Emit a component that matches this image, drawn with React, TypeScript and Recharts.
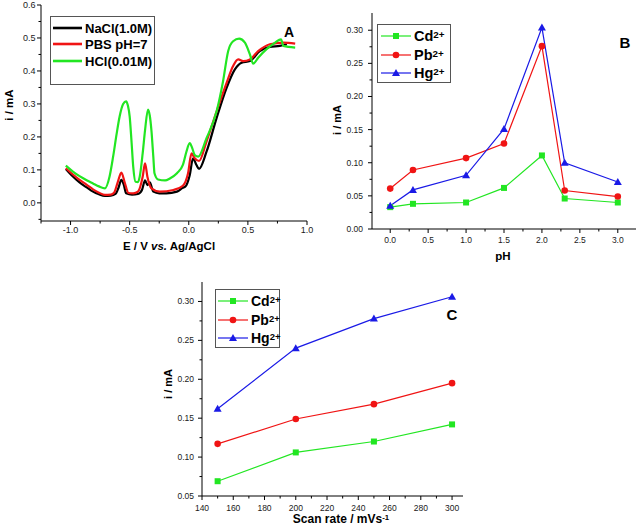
import React from 'react';
import { LineChart, Line, XAxis, YAxis } from 'recharts';

const FONT = '"Liberation Sans", Arial, Helvetica, sans-serif';
const GREEN = '#22e622';
const RED = '#f01414';
const BLUE = '#1a1ae6';
const BLACK = '#000000';

// Panel A: [E (V), i (mA)]
const naclCurve: [number, number][] = [
  [-1.04, 0.103], [-0.98, 0.08], [-0.924, 0.062], [-0.86, 0.046], [-0.81, 0.034], [-0.76, 0.026],
  [-0.71, 0.021], [-0.66, 0.022], [-0.62, 0.027], [-0.595, 0.045], [-0.57, 0.07], [-0.55, 0.055],
  [-0.53, 0.029], [-0.48, 0.025], [-0.43, 0.027], [-0.395, 0.04], [-0.37, 0.068], [-0.35, 0.054],
  [-0.33, 0.062], [-0.3, 0.034], [-0.25, 0.029], [-0.19, 0.029], [-0.1, 0.034], [-0.05, 0.046],
  [-0.03, 0.049], [0.008, 0.084], [0.036, 0.135], [0.065, 0.115], [0.087, 0.103], [0.15, 0.155],
  [0.235, 0.257], [0.32, 0.349], [0.39, 0.405], [0.447, 0.425], [0.517, 0.43], [0.6, 0.46],
  [0.686, 0.473], [0.77, 0.476], [0.83, 0.481],
];
const pbsCurve: [number, number][] = [
  [-1.04, 0.105], [-0.98, 0.086], [-0.924, 0.07], [-0.86, 0.054], [-0.81, 0.041], [-0.76, 0.031],
  [-0.71, 0.024], [-0.66, 0.025], [-0.63, 0.032], [-0.6, 0.064], [-0.57, 0.092], [-0.54, 0.059],
  [-0.51, 0.03], [-0.47, 0.029], [-0.43, 0.034], [-0.39, 0.079], [-0.37, 0.12], [-0.35, 0.079],
  [-0.316, 0.044], [-0.245, 0.034], [-0.13, 0.039], [-0.05, 0.052], [-0.006, 0.09], [0.023, 0.15],
  [0.05, 0.135], [0.087, 0.127], [0.15, 0.186], [0.235, 0.277], [0.32, 0.364], [0.375, 0.415],
  [0.418, 0.435], [0.46, 0.43], [0.517, 0.435], [0.587, 0.46], [0.686, 0.481], [0.8, 0.486],
  [0.9, 0.483],
];
const hclCurve: [number, number][] = [
  [-1.04, 0.113], [-0.98, 0.095], [-0.924, 0.081], [-0.86, 0.068], [-0.81, 0.059], [-0.76, 0.05],
  [-0.71, 0.044], [-0.67, 0.08], [-0.64, 0.14], [-0.61, 0.21], [-0.585, 0.262], [-0.555, 0.3],
  [-0.53, 0.308], [-0.515, 0.295], [-0.5, 0.262], [-0.485, 0.19], [-0.47, 0.11], [-0.45, 0.064],
  [-0.43, 0.063], [-0.415, 0.079], [-0.39, 0.15], [-0.37, 0.22], [-0.345, 0.283], [-0.33, 0.265],
  [-0.316, 0.22], [-0.3, 0.14], [-0.29, 0.09], [-0.26, 0.071], [-0.2, 0.068], [-0.16, 0.074],
  [-0.1, 0.09], [-0.05, 0.115], [-0.02, 0.155], [0.008, 0.181], [0.03, 0.165], [0.05, 0.145],
  [0.08, 0.14], [0.15, 0.196], [0.235, 0.277], [0.29, 0.369], [0.333, 0.46], [0.375, 0.49],
  [0.426, 0.498], [0.475, 0.486], [0.517, 0.45], [0.545, 0.422], [0.587, 0.44], [0.658, 0.466],
  [0.73, 0.486], [0.78, 0.496], [0.8, 0.476], [0.9, 0.471],
];

// Panel B: current vs pH
const phValues = [0, 0.3, 1.0, 1.5, 2.0, 2.3, 3.0];
const cdByPh = [0.033, 0.038, 0.04, 0.062, 0.111, 0.046, 0.04];
const pbByPh = [0.061, 0.089, 0.107, 0.129, 0.276, 0.058, 0.049];
const hgByPh = [0.035, 0.059, 0.081, 0.151, 0.304, 0.1, 0.071];

// Panel C: current vs scan rate
const scanRates = [150, 200, 250, 300];
const cdByRate = [0.069, 0.106, 0.12, 0.142];
const pbByRate = [0.117, 0.149, 0.168, 0.195];
const hgByRate = [0.162, 0.24, 0.278, 0.306];

// ticks
const aXMajor = [-1, -0.5, 0, 0.5, 1];
const aXMinor = [-1.25, -0.75, -0.25, 0.25, 0.75];
const aYMajor = [0, 0.1, 0.2, 0.3, 0.4, 0.5, 0.6];
const aYMinor = [-0.05, 0.05, 0.15, 0.25, 0.35, 0.45, 0.55];
const bXMajor = [0, 0.5, 1, 1.5, 2, 2.5, 3];
const bXMinor = [0.25, 0.75, 1.25, 1.75, 2.25, 2.75];
const bYMajor = [0, 0.05, 0.1, 0.15, 0.2, 0.25, 0.3];
const bYMinor = [0.025, 0.075, 0.125, 0.175, 0.225, 0.275];
const cXMajor = [140, 160, 180, 200, 220, 240, 260, 280, 300];
const cXMinor = [150, 170, 190, 210, 230, 250, 270, 290];
const cYMajor = [0.05, 0.1, 0.15, 0.2, 0.25, 0.3];
const cYMinor = [0.075, 0.125, 0.175, 0.225, 0.275];

const toPoints = (c: [number, number][]) => c.map(([e, i]) => ({ e, i }));
const phData = phValues.map((ph, k) => ({ ph, cd: cdByPh[k], pb: pbByPh[k], hg: hgByPh[k] }));
const rateData = scanRates.map((r, k) => ({ r, cd: cdByRate[k], pb: pbByRate[k], hg: hgByRate[k] }));

const all = (a: number[], b: number[]) => [...a, ...b].sort((x, y) => x - y);

// tick renderer: long ticks + label for majors, short ticks for minors
const makeTick = (side: 'left' | 'bottom', majors: number[], fmt: (v: number) => string, size: number, gap: number) =>
  (p: any) => {
    const v = p.payload.value;
    const isMajor = majors.some((m) => Math.abs(m - v) < 1e-9);
    const len = isMajor ? 4 : 2.5;
    const { x, y } = p;
    if (side === 'left') {
      return (
        <g>
          <line x1={x} y1={y} x2={x - len} y2={y} stroke="#000" />
          {isMajor && (
            <text x={x - 4 - gap} y={y} dy="0.35em" textAnchor="end" fontSize={size} fill="#1a1a1a" fontFamily={FONT}>
              {fmt(v)}
            </text>
          )}
        </g>
      );
    }
    return (
      <g>
        <line x1={x} y1={y} x2={x} y2={y + len} stroke="#000" />
        {isMajor && (
          <text x={x} y={y + 4 + gap} dy="0.71em" textAnchor="middle" fontSize={size} fill="#1a1a1a" fontFamily={FONT}>
            {fmt(v)}
          </text>
        )}
      </g>
    );
  };

const squareDot = (color: string) => (p: any) => (
  <rect key={`s${p.index}`} x={p.cx - 3} y={p.cy - 3} width={6} height={6} fill={color} />
);
const circleDot = (color: string) => (p: any) => (
  <circle key={`c${p.index}`} cx={p.cx} cy={p.cy} r={3.3} fill={color} />
);
const triDot = (color: string) => (p: any) => (
  <polygon key={`t${p.index}`} points={`${p.cx},${p.cy - 4} ${p.cx - 4},${p.cy + 3} ${p.cx + 4},${p.cy + 3}`} fill={color} />
);

// top + right axis lines to close the box
function frameAxes() {
  return [
    <XAxis key="fx" xAxisId="top" orientation="top" type="number" domain={[0, 1]} height={0} tick={false} tickLine={false} axisLine={{ stroke: '#000' }} />,
    <YAxis key="fy" yAxisId="right" orientation="right" type="number" domain={[0, 1]} width={0} tick={false} tickLine={false} axisLine={{ stroke: '#000' }} />,
  ];
}

const Txt = ({ x, y, size, rotate, children, weight = 'bold' }: any) => (
  <div
    style={{
      position: 'absolute', left: x, top: y, fontSize: size, fontWeight: weight, whiteSpace: 'nowrap', lineHeight: 1,
      transform: `translate(-50%, -50%)${rotate ? ` rotate(${rotate}deg)` : ''}`, color: '#000',
    }}
  >
    {children}
  </div>
);

type Row = { label: React.ReactNode; color: string; marker?: 'square' | 'circle' | 'tri'; thick?: number };

function LegendBox({ x, y, w, h, rows, first, step, lx0, lx1, tx, size }: any) {
  return (
    <div style={{ position: 'absolute', left: x, top: y, width: w, height: h, border: '1px solid #555', boxSizing: 'border-box', background: '#fff' }}>
      {rows.map((r: Row, k: number) => {
        const cy = first + k * step;
        const lw = lx1 - lx0;
        return (
          <React.Fragment key={k}>
            <svg style={{ position: 'absolute', left: lx0, top: cy - 5 }} width={lw} height={10}>
              <line x1={0} y1={5} x2={lw} y2={5} stroke={r.color} strokeWidth={r.thick ?? 1.2} />
              {r.marker === 'square' && <rect x={lw / 2 - 3} y={2} width={6} height={6} fill={r.color} />}
              {r.marker === 'circle' && <circle cx={lw / 2} cy={5} r={3.3} fill={r.color} />}
              {r.marker === 'tri' && <polygon points={`${lw / 2},1 ${lw / 2 - 4},8 ${lw / 2 + 4},8`} fill={r.color} />}
            </svg>
            <div style={{ position: 'absolute', left: tx, top: cy, transform: 'translateY(-50%)', fontSize: size, fontWeight: 'bold', lineHeight: 1, whiteSpace: 'nowrap' }}>
              {r.label}
            </div>
          </React.Fragment>
        );
      })}
    </div>
  );
}

const ion = (sym: string) => (
  <span>
    {sym}
    <sup style={{ fontSize: '0.68em', verticalAlign: '0.3em', lineHeight: 0 }}>2+</sup>
  </span>
);

const ionRows: Row[] = [
  { label: ion('Cd'), color: GREEN, marker: 'square' },
  { label: ion('Pb'), color: RED, marker: 'circle' },
  { label: ion('Hg'), color: BLUE, marker: 'tri' },
];

export default function App() {
  return (
    <div style={{ position: 'absolute', left: 0, top: 0, width: 639, height: 531, background: '#fff', fontFamily: FONT }}>
      {/* A */}
      <div style={{ position: 'absolute', left: 0, top: 0 }}>
        <LineChart width={320} height={270} margin={{ top: 5, right: 13, bottom: 19, left: 6 }}>
          <XAxis dataKey="e" type="number" domain={[-1.25, 1.0]} ticks={all(aXMajor, aXMinor)} interval={0}
            tickSize={0} tickMargin={0} tickLine={false} height={30} axisLine={{ stroke: '#000' }} allowDataOverflow
            tick={makeTick('bottom', aXMajor, (v) => v.toFixed(1), 9, 2)} />
          <YAxis type="number" domain={[-0.055, 0.6]} ticks={all(aYMajor, aYMinor)} interval={0}
            tickSize={0} tickMargin={0} tickLine={false} width={35} axisLine={{ stroke: '#000' }} allowDataOverflow
            tick={makeTick('left', aYMajor, (v) => v.toFixed(1), 9, 1.5)} />
          {frameAxes()}
          <Line data={toPoints(naclCurve)} dataKey="i" type="monotone" stroke={BLACK} strokeWidth={2.2} dot={false} isAnimationActive={false} />
          <Line data={toPoints(pbsCurve)} dataKey="i" type="monotone" stroke={RED} strokeWidth={2.2} dot={false} isAnimationActive={false} />
          <Line data={toPoints(hclCurve)} dataKey="i" type="monotone" stroke={GREEN} strokeWidth={2.2} dot={false} isAnimationActive={false} />
        </LineChart>
      </div>
      <LegendBox x={50} y={16} w={105} h={69} first={11} step={16.3} lx0={2} lx1={31} tx={34} size={13}
        rows={[
          { label: 'NaCl(1.0M)', color: BLACK, thick: 2.6 },
          { label: 'PBS pH=7', color: RED, thick: 2.6 },
          { label: 'HCl(0.01M)', color: GREEN, thick: 2.6 },
        ]} />
      <Txt x={289} y={32} size={14}>A</Txt>
      <Txt x={169} y={247} size={11.5}>E / V <i>vs.</i> Ag/AgCl</Txt>
      <Txt x={10} y={105} size={11.5} rotate={-90}>i / mA</Txt>

      {/* B */}
      <div style={{ position: 'absolute', left: 320, top: 0 }}>
        <LineChart width={319} height={270} data={phData} margin={{ top: 13, right: 3, bottom: 11, left: 4 }}>
          <XAxis dataKey="ph" type="number" domain={[-0.24, 3.24]} ticks={all(bXMajor, bXMinor)} interval={0}
            tickSize={0} tickMargin={0} tickLine={false} height={30} axisLine={{ stroke: '#000' }} allowDataOverflow
            tick={makeTick('bottom', bXMajor, (v) => v.toFixed(1), 8.5, 3.5)} />
          <YAxis type="number" domain={[0, 0.326]} ticks={all(bYMajor, bYMinor)} interval={0}
            tickSize={0} tickMargin={0} tickLine={false} width={48} axisLine={{ stroke: '#000' }} allowDataOverflow
            tick={makeTick('left', bYMajor, (v) => v.toFixed(2), 8.5, 5)} />
          {frameAxes()}
          <Line dataKey="cd" type="linear" stroke={GREEN} strokeWidth={1.2} dot={squareDot(GREEN)} isAnimationActive={false} />
          <Line dataKey="pb" type="linear" stroke={RED} strokeWidth={1.2} dot={circleDot(RED)} isAnimationActive={false} />
          <Line dataKey="hg" type="linear" stroke={BLUE} strokeWidth={1.2} dot={triDot(BLUE)} isAnimationActive={false} />
        </LineChart>
      </div>
      <LegendBox x={377} y={24} w={74} h={59} first={11} step={18.5} lx0={3} lx1={33} tx={36} size={14.5} rows={ionRows} />
      <Txt x={625} y={42} size={15}>B</Txt>
      <Txt x={503} y={257} size={11.5}>pH</Txt>
      <Txt x={337} y={120} size={11} rotate={-90}>i / mA</Txt>

      {/* C */}
      <div style={{ position: 'absolute', left: 150, top: 260 }}>
        <LineChart width={340} height={271} data={rateData} margin={{ top: 22, right: 27, bottom: 5, left: 4 }}>
          <XAxis dataKey="r" type="number" domain={[140, 307]} ticks={all(cXMajor, cXMinor)} interval={0}
            tickSize={0} tickMargin={0} tickLine={false} height={30} axisLine={{ stroke: '#000' }} allowDataOverflow
            tick={makeTick('bottom', cXMajor, (v) => String(v), 8.5, 4.5)} />
          <YAxis type="number" domain={[0.05, 0.325]} ticks={all(cYMajor, cYMinor)} interval={0}
            tickSize={0} tickMargin={0} tickLine={false} width={48} axisLine={{ stroke: '#000' }} allowDataOverflow
            tick={makeTick('left', cYMajor, (v) => v.toFixed(2), 8.5, 4)} />
          {frameAxes()}
          <Line dataKey="cd" type="linear" stroke={GREEN} strokeWidth={1.2} dot={squareDot(GREEN)} isAnimationActive={false} />
          <Line dataKey="pb" type="linear" stroke={RED} strokeWidth={1.2} dot={circleDot(RED)} isAnimationActive={false} />
          <Line dataKey="hg" type="linear" stroke={BLUE} strokeWidth={1.2} dot={triDot(BLUE)} isAnimationActive={false} />
        </LineChart>
      </div>
      <LegendBox x={215} y={289} w={65} h={59} first={11} step={18.5} lx0={2} lx1={32} tx={35} size={14} rows={ionRows} />
      <Txt x={452} y={314} size={15}>C</Txt>
      <Txt x={341} y={519} size={12}>
        Scan rate / mVs<sup style={{ fontSize: '0.65em', verticalAlign: '0.45em', lineHeight: 0 }}>-1</sup>
      </Txt>
      <Txt x={168} y={384} size={11} rotate={-90}>i / mA</Txt>
    </div>
  );
}
